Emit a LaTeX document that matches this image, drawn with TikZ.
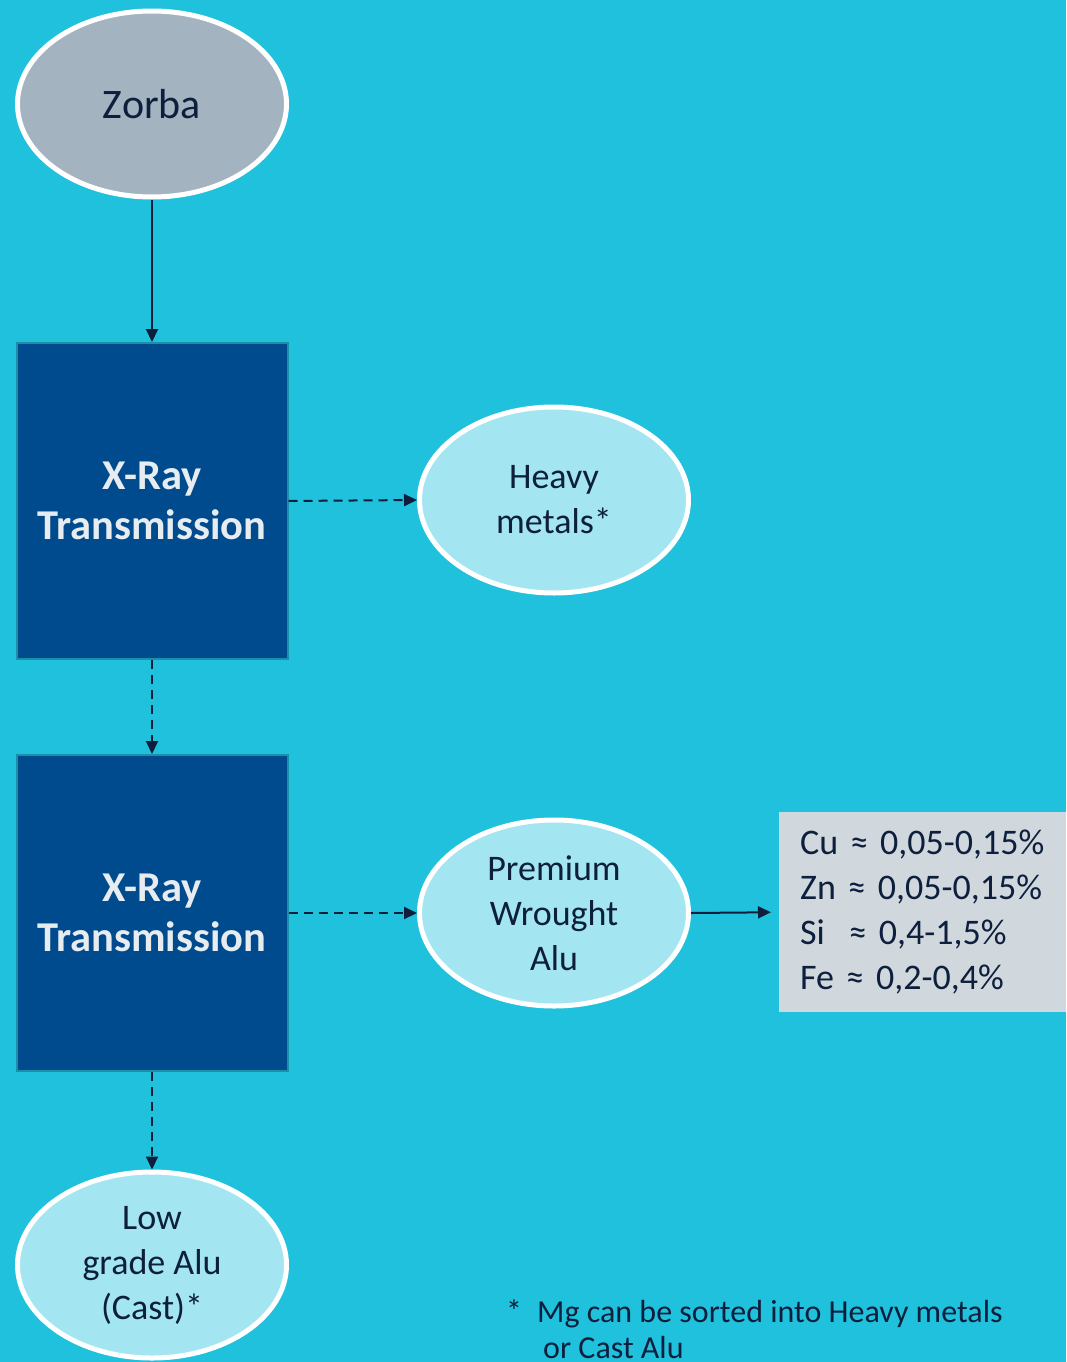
\documentclass[tikz,border=0pt]{standalone}
\usepackage{fontspec}
\setmainfont{Carlito}
\usetikzlibrary{shapes.geometric,arrows.meta}
\definecolor{bgc}{HTML}{1FC1DC}
\definecolor{navy}{HTML}{0D1F3C}
\definecolor{zorbafill}{HTML}{A3B3C0}
\definecolor{lightfill}{HTML}{A3E5F0}
\definecolor{boxfill}{HTML}{004B8D}
\definecolor{boxedge}{HTML}{1A8FA8}
\definecolor{boxtext}{HTML}{E6ECF0}
\definecolor{greyfill}{HTML}{D0D8DE}
\tikzset{
  oval/.style={ellipse, draw=white, line width=5pt, minimum width=269pt, minimum height=186pt, inner sep=0pt, text=navy, align=center, font=\fontsize{36}{45}\selectfont},
  xray/.style={rectangle, draw=boxedge, line width=2pt, fill=boxfill, minimum width=271pt, minimum height=316pt, text=boxtext, align=center, font=\fontsize{42.5}{50}\selectfont\bfseries},
  solidarrow/.style={draw=navy, line width=2pt, -{Triangle[length=13pt,width=12pt]}},
  dasharrow/.style={solidarrow, dash pattern=on 9pt off 6pt},
}
\begin{document}
\begin{tikzpicture}[x=1pt,y=-1pt]
\fill[bgc] (0,0) rectangle (1066,1362);
\useasboundingbox (0,0) rectangle (1066,1362);
\clip (0,0) rectangle (1066,1362);
\node[oval, fill=zorbafill, font=\fontsize{42}{48}\selectfont] (zorba) at (152,104) {Zorba};
\node[xray] (x1) at (152,501) {X-Ray\\Transmission};
\node[xray] (x2) at (152,913) {X-Ray\\Transmission};
\node[oval, fill=lightfill] (heavy) at (554,500) {Heavy\\metals*};
\node[oval, fill=lightfill] (prem) at (554,913) {Premium\\Wrought\\Alu};
\node[oval, fill=lightfill] (low) at (152,1265) {Low\\grade Alu\\(Cast)*};
\node[rectangle, fill=greyfill, minimum width=287pt, minimum height=200pt, anchor=north west, inner xsep=21pt, text width=245pt, align=left, text=navy, font=\fontsize{36}{45}\selectfont] (grey) at (779,812) {Cu ≈ 0,05-0,15\%\\Zn ≈ 0,05-0,15\%\\Si\ \ ≈ 0,4-1,5\%\\Fe ≈ 0,2-0,4\%};
\node[anchor=base west, inner sep=0pt, text=navy, align=left, font=\fontsize{32}{36}\selectfont] (note) at (506,1358) {\makebox[31pt][l]{*}Mg can be sorted into Heavy metals\\\hspace*{37pt}or Cast Alu};
\draw[solidarrow] (zorba.south) -- (x1.north);
\draw[dasharrow] (x1.east) -- (heavy.west);
\draw[dasharrow] (x1.south) -- (x2.north);
\draw[dasharrow] (x2.east) -- (prem.west);
\draw[dasharrow] (x2.south) -- (low.north);
\draw[solidarrow, shorten >=8pt] (prem.east) -- (grey.west);
\end{tikzpicture}
\end{document}
